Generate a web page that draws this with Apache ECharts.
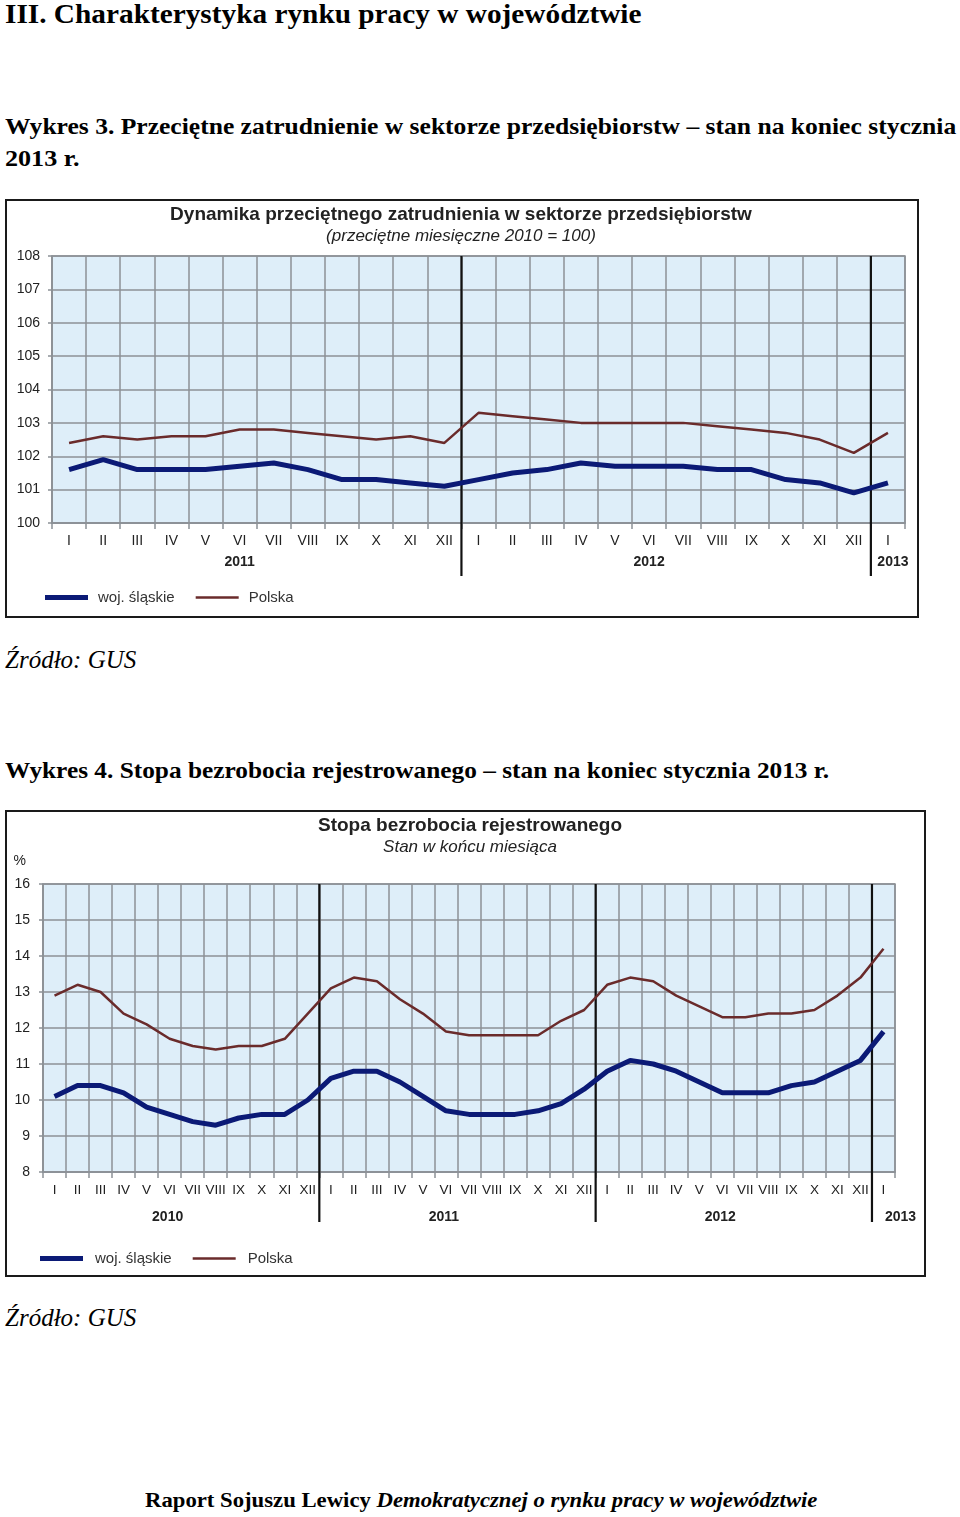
<!DOCTYPE html>
<html><head><meta charset="utf-8">
<script src="https://cdn.jsdelivr.net/npm/echarts@6/dist/echarts.min.js"></script>
<style>
body{margin:0;width:960px;height:1517px;background:#fff;position:relative;overflow:hidden;font-family:"Liberation Serif","Times New Roman",serif;color:#000}
.t{position:absolute;white-space:nowrap;line-height:1;transform-origin:0 50%}
.b{font-weight:bold}
.i{font-style:italic}
.box{position:absolute;border:2px solid #1a1a1a;box-sizing:border-box;pointer-events:none;z-index:5}
.ch{position:absolute;left:0;width:960px}
</style></head><body>
<div class="t b" data-w="636" style="left:5px;top:1px;font-size:27px">III. Charakterystyka rynku pracy w województwie</div>
<div class="t b" data-w="951" style="left:5px;top:114px;font-size:24px">Wykres 3. Przeciętne zatrudnienie w sektorze przedsiębiorstw – stan na koniec stycznia</div>
<div class="t b" data-w="74" style="left:5px;top:146px;font-size:24px">2013 r.</div>
<div class="t i" data-w="131" style="left:5px;top:647px;font-size:25px">Źródło: GUS</div>
<div class="t b" data-w="824" style="left:5px;top:758px;font-size:24px">Wykres 4. Stopa bezrobocia rejestrowanego – stan na koniec stycznia 2013 r.</div>
<div class="t i" data-w="131" style="left:5px;top:1305px;font-size:25px">Źródło: GUS</div>
<div class="t b" data-w="672" style="left:145px;top:1489px;font-size:22px">Raport Sojuszu Lewicy <span class="i">Demokratycznej o rynku pracy w województwie</span></div>

<div class="box" style="left:5px;top:199px;width:914px;height:419px"></div>
<div class="box" style="left:5px;top:810px;width:921px;height:467px"></div>
<div id="c1" class="ch" style="top:199px;height:419px"></div>
<div id="c2" class="ch" style="top:810px;height:467px"></div>

<script>
// ---------- data ----------
const months = ['I','II','III','IV','V','VI','VII','VIII','IX','X','XI','XII'];

// Chart 1: 2011 I – 2013 I
const years1 = ['2011','2012','2013'];
const cats1 = [...months, ...months, 'I'];
const slaskie1 = [101.6,101.9,101.6,101.6,101.6,101.7,101.8,101.6,101.3,101.3,101.2,101.1,
                  101.3,101.5,101.6,101.8,101.7,101.7,101.7,101.6,101.6,101.3,101.2,100.9,
                  101.2];
const polska1  = [102.4,102.6,102.5,102.6,102.6,102.8,102.8,102.7,102.6,102.5,102.6,102.4,
                  103.3,103.2,103.1,103.0,103.0,103.0,103.0,102.9,102.8,102.7,102.5,102.1,
                  102.7];

// Chart 2: 2010 I – 2013 I
const years2 = ['2010','2011','2012','2013'];
const cats2 = [...months, ...months, ...months, 'I'];
const slaskie2 = [10.1,10.4,10.4,10.2,9.8,9.6,9.4,9.3,9.5,9.6,9.6,10.0,
                  10.6,10.8,10.8,10.5,10.1,9.7,9.6,9.6,9.6,9.7,9.9,10.3,
                  10.8,11.1,11.0,10.8,10.5,10.2,10.2,10.2,10.4,10.5,10.8,11.1,
                  11.9];
const polska2  = [12.9,13.2,13.0,12.4,12.1,11.7,11.5,11.4,11.5,11.5,11.7,12.4,
                  13.1,13.4,13.3,12.8,12.4,11.9,11.8,11.8,11.8,11.8,12.2,12.5,
                  13.2,13.4,13.3,12.9,12.6,12.3,12.3,12.4,12.4,12.5,12.9,13.4,
                  14.2];

const names = ['woj. śląskie','Polska'];

// ---------- fit page text widths ----------
document.querySelectorAll('.t[data-w]').forEach(el=>{
  const w = el.scrollWidth, tw = +el.dataset.w;
  el.style.transform = 'scaleX(' + (tw/w) + ')';
});

// ---------- helpers ----------
const GRID = '#8c9196', BLUE = '#0b1a76', BROWN = '#6a2b2b', BG = '#deeef9';
const SANS = '"Liberation Sans", Arial, sans-serif';

function yearStarts(cats){ const s=[]; cats.forEach((c,i)=>{ if(c==='I') s.push(i); }); return s; }
function yearLabelMap(cats, years){
  const starts = yearStarts(cats), map = {};
  starts.forEach((s,k)=>{
    const vi = cats.indexOf('VI', s);
    const end = k+1<starts.length ? starts[k+1] : cats.length;
    if (vi>=0 && vi<end) map[vi] = '{y|' + years[k] + '}';
    else map[s] = '{s|' + years[k] + '}';
  });
  return map;
}

function build(o){
  const starts = yearStarts(o.cats).slice(1);
  const ymap = yearLabelMap(o.cats, o.years);
  const yr = {fontSize:14, fontWeight:'bold', color:'#222', fontFamily:SANS};
  return {
    animation:false,
    textStyle:{fontFamily:SANS},
    graphic:[
      {type:'text', x:o.titleX, y:o.titleY, style:{text:o.title, align:'center', verticalAlign:'middle', font:'bold 19px '+SANS, fill:'#222'}},
      {type:'text', x:o.titleX, y:o.subY, style:{text:o.sub, align:'center', verticalAlign:'middle', font:'italic 17px '+SANS, fill:'#222'}}
    ],
    legend:{left:o.legLeft, top:o.legTop, itemWidth:43, itemHeight:12, itemGap:21,
      textStyle:{fontSize:15, color:'#333', fontFamily:SANS, padding:[0,0,0,o.legTextPad]},
      data:[
        {name:names[0], icon:'path://M0,0H86V10H0Z', itemStyle:{color:BLUE}},
        {name:names[1], icon:'path://M0,0H86V5H0Z', itemStyle:{color:BROWN}}
      ]},
    grid:{left:o.left, right:o.right, top:o.top, bottom:o.bottom, show:true, backgroundColor:BG, borderColor:GRID, borderWidth:1.5},
    xAxis:[
      {type:'category', data:o.cats, boundaryGap:true,
        axisLine:{lineStyle:{color:GRID, width:1.5}},
        axisTick:{show:true, interval:0, length:6, lineStyle:{color:GRID, width:1.5}},
        axisLabel:{interval:0, margin:11, fontSize:o.xFont, color:'#222', fontFamily:SANS},
        splitLine:{show:true, interval:0, lineStyle:{color:GRID, width:1.5}}},
      {type:'category', data:o.cats, boundaryGap:true, position:'bottom', offset:o.yearOffset,
        axisLine:{show:false}, axisTick:{show:false}, splitLine:{show:false},
        axisLabel:{interval:0, margin:11, fontSize:14, fontWeight:'bold', color:'#222', fontFamily:SANS,
          formatter:(v,i)=> ymap[i] || '',
          rich:{y:Object.assign({padding:[0,o.yearPad||0,0,0]}, yr),
                s:Object.assign({padding:[0,0,0,o.lastPad]}, yr)}}}
    ],
    yAxis:{type:'value', min:o.min, max:o.max, interval:1,
      name:o.yName||'', nameLocation:'end', nameGap:o.nameGap||0,
      nameTextStyle:{fontSize:14, color:'#222', align:'right', padding:[0,o.namePad||0,0,0]},
      axisLine:{show:true, lineStyle:{color:GRID, width:1.5}},
      axisTick:{show:true, length:4, lineStyle:{color:GRID, width:1.5}},
      axisLabel:{margin:o.yMargin, fontSize:14, color:'#222', fontFamily:SANS},
      splitLine:{show:true, lineStyle:{color:GRID, width:1.5}}},
    series:[
      {type:'custom', silent:true, z:1, clip:false, xAxisIndex:0,
        data: starts.map(i=>[i, o.min]),
        renderItem:(p, api)=>{
          const idx = api.value(0);
          const band = api.size([1,0])[0];
          const t = api.coord([idx, o.max]), b = api.coord([idx, o.min]);
          const x = t[0] - band/2;
          return {type:'line', shape:{x1:x, y1:t[1], x2:x, y2:b[1]+o.ext}, style:{stroke:'#111', lineWidth:2.2}};
        }},
      {name:names[1], type:'line', data:o.pl, symbol:'none', z:3, lineStyle:{color:BROWN, width:2.5}, itemStyle:{color:BROWN}},
      {name:names[0], type:'line', data:o.sl, symbol:'none', z:4, lineStyle:{color:BLUE, width:5}, itemStyle:{color:BLUE}}
    ]
  };
}

const c1 = echarts.init(document.getElementById('c1'), null, {renderer:'canvas'});
c1.setOption(build({
  cats:cats1, years:years1, sl:slaskie1, pl:polska1, min:100, max:108,
  title:'Dynamika przeciętnego zatrudnienia w sektorze przedsiębiorstw', sub:'(przeciętne miesięczne 2010 = 100)',
  titleX:461, titleY:16, subY:37,
  left:52, right:55, top:57, bottom:95, xFont:14, yMargin:12, yearOffset:21, lastPad:10, ext:53,
  legLeft:40, legTop:386, legTextPad:5
}));

const c2 = echarts.init(document.getElementById('c2'), null, {renderer:'canvas'});
c2.setOption(build({
  cats:cats2, years:years2, sl:slaskie2, pl:polska2, min:8, max:16,
  title:'Stopa bezrobocia rejestrowanego', sub:'Stan w końcu miesiąca',
  titleX:470, titleY:16, subY:37,
  left:43, right:65, top:74, bottom:105, xFont:13.5, yMargin:13, yearOffset:27, lastPad:34, yearPad:4, ext:50,
  legLeft:35, legTop:436, legTextPad:7, yName:'%', nameGap:16, namePad:17
}));
</script>
</body></html>
